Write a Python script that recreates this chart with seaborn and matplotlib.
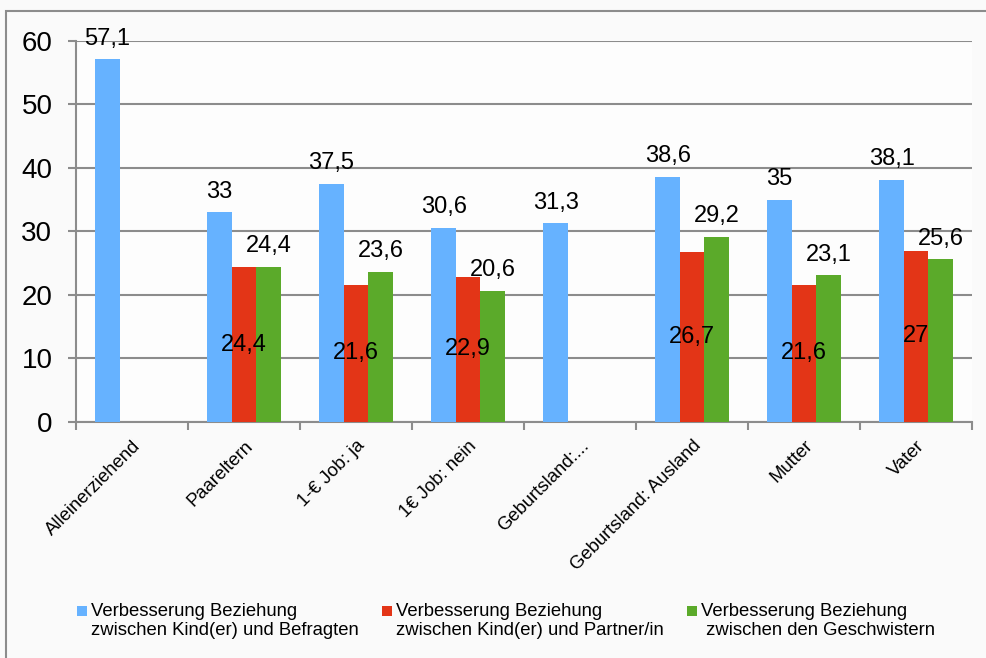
import pandas as pd
import seaborn as sns
import matplotlib.pyplot as plt
from matplotlib.patches import Rectangle
import numpy as np

# Data
categories = ["Alleinerziehend", "Paareltern", "1-€ Job: ja", "1€ Job: nein",
              "Geburtsland:...", "Geburtsland: Ausland", "Mutter", "Vater"]
befragte = [57.1, 33, 37.5, 30.6, 31.3, 38.6, 35, 38.1]
partner = [np.nan, 24.4, 21.6, 22.9, np.nan, 26.7, 21.6, 27]
geschwister = [np.nan, 24.4, 23.6, 20.6, np.nan, 29.2, 23.1, 25.6]
series_names = ["Verbesserung Beziehung\nzwischen Kind(er) und Befragten",
                "Verbesserung Beziehung\nzwischen Kind(er) und Partner/in",
                "Verbesserung Beziehung\n zwischen den Geschwistern"]
colors = ["#66B2FF", "#E33517", "#5BAA2A"]

df = pd.DataFrame({"cat": categories * 3,
                   "val": befragte + partner + geschwister,
                   "series": [series_names[0]] * 8 + [series_names[1]] * 8 + [series_names[2]] * 8})

sns.set_style("white")
plt.rcParams['font.family'] = ['Liberation Sans', 'DejaVu Sans']
plt.rcParams['text.color'] = 'black'

fig = plt.figure(figsize=(9.87, 6.58), dpi=100, facecolor="#fafafa")
ax = fig.add_axes([0.077, 0.3587, 0.908, 0.579])
ax.set_facecolor("#fdfdfd")

sns.barplot(data=df, x="cat", y="val", hue="series", order=categories,
            hue_order=series_names, palette=colors, width=0.656, saturation=1,
            edgecolor="none", linewidth=0, legend=False, ax=ax, zorder=3)

# value labels (seaborn skips NaN bars, so drop them here too)
for i, cont in enumerate(ax.containers):
    vals = [v for v in [befragte, partner, geschwister][i] if not np.isnan(v)]
    for bar, v in zip(cont, vals):
        txt = f"{v:g}".replace(".", ",")
        xc = bar.get_x() + bar.get_width() / 2
        if i == 1:
            ax.annotate(txt, (xc, v / 2), ha="center", va="center",
                        fontsize=17, color="black", zorder=5,
                        annotation_clip=False)
        else:
            ax.annotate(txt, (xc, v), xytext=(0, 7), textcoords="offset points",
                        ha="center", va="bottom", fontsize=17, color="black",
                        zorder=5, annotation_clip=False)

ax.set_ylim(0, 60)
ax.set_xlim(-0.5, 7.5)
ax.set_yticks(range(0, 61, 10))
ax.yaxis.grid(True, color="#8c8c8c", linewidth=1.5, zorder=0)
ax.tick_params(axis="y", labelsize=20, length=6, width=1.5, color="#8c8c8c",
               labelcolor="black", left=True, pad=11)
ax.set_xticks(range(8))
ax.set_xticklabels(categories, rotation=45, ha="right", va="top",
                   rotation_mode="anchor", fontsize=13.3, color="black")
ax.tick_params(axis="x", length=0, pad=11)
ax.set_xticks(np.arange(-0.5, 8, 1), minor=True)
ax.tick_params(axis="x", which="minor", length=6, width=1.5, color="#8c8c8c",
               bottom=True)
ax.set_xlabel("")
ax.set_ylabel("")
for s in ["top", "right"]:
    ax.spines[s].set_visible(False)
for s in ["left", "bottom"]:
    ax.spines[s].set_color("#8c8c8c")
    ax.spines[s].set_linewidth(1.5)

# legend: square marker level with the first text line
W, H = 987, 658
marker_x = [77, 382, 687]
for mx, name, c in zip(marker_x, series_names, colors):
    fig.patches.append(Rectangle((mx / W, 1 - 616 / H), 10 / W, 10 / H,
                                 transform=fig.transFigure, facecolor=c,
                                 edgecolor="none"))
    fig.text((mx + 14) / W, 1 - 603 / H, name, ha="left", va="top",
             fontsize=13.3, linespacing=1.15, color="black")

# outer chart border
fig.patches.append(Rectangle((6 / W, -0.1), 1.1, 0.1 + (H - 11) / H,
                             transform=fig.transFigure, fill=False,
                             edgecolor="#8c8c8c", linewidth=1.5))

fig.savefig("out.png", dpi=100, facecolor=fig.get_facecolor())
